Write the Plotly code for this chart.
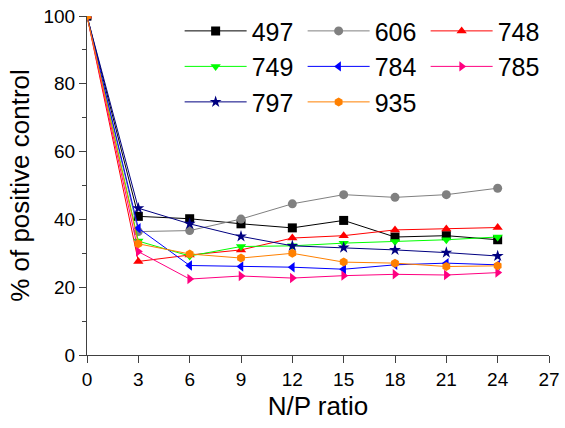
import plotly.graph_objects as go

np_ratio = [0, 3, 6, 9, 12, 15, 18, 21, 24]

series_names = ["497", "606", "748", "749", "784", "785", "797", "935"]
v497 = [100, 40.9, 40.2, 38.7, 37.5, 39.7, 34.8, 35.2, 34.0]
v606 = [100, 36.4, 36.7, 40.1, 44.6, 47.3, 46.5, 47.3, 49.2]
v748 = [100, 27.6, 29.5, 31.0, 34.5, 35.2, 36.9, 37.2, 37.6]
v749 = [100, 33.6, 29.2, 32.0, 32.2, 33.0, 33.5, 34.0, 34.8]
v784 = [100, 37.4, 26.4, 26.1, 25.9, 25.3, 26.6, 27.1, 26.6]
v785 = [100, 30.5, 22.4, 23.3, 22.7, 23.4, 23.8, 23.6, 24.3]
v797 = [100, 43.3, 38.7, 35.0, 32.2, 31.7, 31.0, 30.2, 29.2]
v935 = [100, 32.8, 29.8, 28.6, 30.0, 27.4, 27.1, 26.1, 26.3]
values = [v497, v606, v748, v749, v784, v785, v797, v935]

colors = ["#000000", "#808080", "#FF0000", "#00FF00", "#0000FF", "#FF0080", "#000080", "#FF8000"]
symbols = ["square", "circle", "triangle-up", "triangle-down", "triangle-left",
           "triangle-right", "star", "hexagon"]

x_ticks = [0, 3, 6, 9, 12, 15, 18, 21, 24, 27]
y_ticks = [0, 20, 40, 60, 80, 100]

fig = go.Figure()
for name, vals, c, s in zip(series_names, values, colors, symbols):
    fig.add_trace(go.Scatter(
        x=np_ratio, y=vals, name=name, mode="lines+markers",
        line=dict(color=c, width=1),
        marker=dict(color=c, symbol=s, size=9, line=dict(width=0)),
        cliponaxis=True,
    ))

font = "Liberation Sans, Arial, sans-serif"
axis_common = dict(
    showline=True, linecolor="#404040", linewidth=1, mirror=False,
    showgrid=False, zeroline=False, ticks="outside", ticklen=7, tickwidth=1,
    tickcolor="#404040", tickfont=dict(family=font, size=19, color="black"),
    automargin=False,
)
fig.update_xaxes(range=[0, 27], tickvals=x_ticks, title=dict(text="N/P ratio", font=dict(family=font, size=26, color="black"), standoff=8), **axis_common)
fig.update_yaxes(range=[0, 100], tickvals=y_ticks,
                 minor=dict(tickvals=[10, 30, 50, 70, 90], ticks="outside", ticklen=4, tickcolor="#404040"),
                 title=dict(text="% of positive control", font=dict(family=font, size=26, color="black"), standoff=6), **axis_common)

fig.update_layout(
    width=565, height=428,
    margin=dict(l=87, r=16, t=16, b=73, autoexpand=False),
    paper_bgcolor="white", plot_bgcolor="white",
    legend=dict(
        orientation="h", x=0.2005, xanchor="left",
        yref="container", y=0.981, yanchor="top",
        font=dict(family=font, size=25, color="black"),
        itemwidth=62, entrywidth=46, entrywidthmode="pixels",
        bgcolor="rgba(0,0,0,0)", tracegroupgap=0,
    ),
    showlegend=True,
)

fig.write_html("out.html")
